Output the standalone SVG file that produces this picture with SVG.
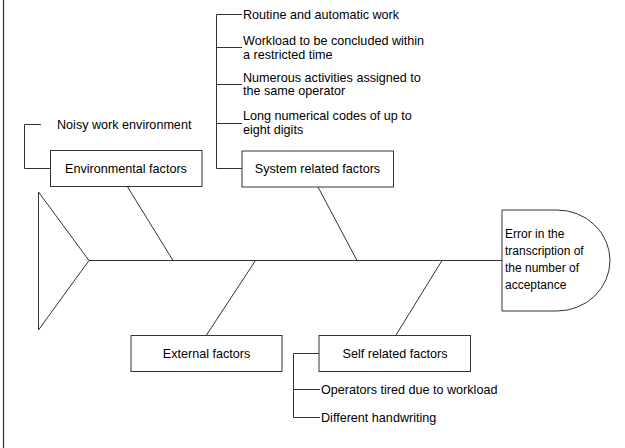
<svg xmlns="http://www.w3.org/2000/svg" width="625" height="448" viewBox="0 0 625 448">
<style>
.ln{stroke:#333;stroke-width:1;fill:none}
.bx{stroke:#333;stroke-width:1;fill:#fff}
.t{font-family:"Liberation Sans",Arial,sans-serif;font-size:12.6px;fill:#000}
.h{font-size:12px}
.c{text-anchor:middle}
</style>
<rect x="0" y="0" width="625" height="448" fill="#fff"/>
<line x1="3.5" y1="0" x2="3.5" y2="448" stroke="#333" stroke-width="1.2"/>
<g id="connectors">
<polyline class="ln" points="38.5,192 89,260.5 38.5,330 38.5,192"/>
<line class="ln" x1="89" y1="260.5" x2="502" y2="260.5"/>
<line class="ln" x1="127" y1="186" x2="173" y2="260.5"/>
<line class="ln" x1="318" y1="187" x2="357" y2="260.5"/>
<line class="ln" x1="255.5" y1="260.5" x2="206.5" y2="335"/>
<line class="ln" x1="442" y1="260.5" x2="396" y2="335"/>
<polyline class="ln" points="41,124.5 24.5,124.5 24.5,168.5 50,168.5"/>
<polyline class="ln" points="242,14.5 216.5,14.5 216.5,168.5 242,168.5"/>
<line class="ln" x1="216.5" y1="47.5" x2="242" y2="47.5"/>
<line class="ln" x1="216.5" y1="84.5" x2="242" y2="84.5"/>
<line class="ln" x1="216.5" y1="123.5" x2="242" y2="123.5"/>
<polyline class="ln" points="319,353.5 293.5,353.5 293.5,417.5 320,417.5"/>
<line class="ln" x1="293.5" y1="389.5" x2="320" y2="389.5"/>
</g>
<g id="environmental">
<rect class="bx" x="50.5" y="150.5" width="151.5" height="36"/>
<text class="t c" x="126" y="172.5">Environmental factors</text>
</g>
<g id="noisy">
<text class="t" x="57" y="128.5">Noisy work environment</text>
</g>
<g id="system">
<rect class="bx" x="242" y="151" width="151.5" height="36"/>
<text class="t c" x="317.5" y="173">System related factors</text>
</g>
<g id="routine"><text class="t" x="243" y="18.5">Routine and automatic work</text></g>
<g id="workload"><text class="t" x="243" y="44.5">Workload to be concluded within</text><text class="t" x="243" y="58.5">a restricted time</text></g>
<g id="numerous"><text class="t" x="243" y="81.5">Numerous activities assigned to</text><text class="t" x="243" y="95">the same operator</text></g>
<g id="long"><text class="t" x="243" y="120">Long numerical codes of up to</text><text class="t" x="243" y="133.5">eight digits</text></g>
<g id="external">
<rect class="bx" x="131" y="335.5" width="151" height="36"/>
<text class="t c" x="206.5" y="357.5">External factors</text>
</g>
<g id="self">
<rect class="bx" x="319" y="335.5" width="151.5" height="36"/>
<text class="t c" x="395" y="357.5">Self related factors</text>
</g>
<g id="tired"><text class="t" x="321" y="393.5">Operators tired due to workload</text></g>
<g id="handwriting"><text class="t" x="321" y="421.5">Different handwriting</text></g>
<g id="head">
<path class="bx" d="M502,210 H557 A53,50.5 0 0 1 557,311 H502 Z"/>
<text class="t h" x="505" y="238">Error in the</text>
<text class="t h" x="505" y="255">transcription of</text>
<text class="t h" x="505" y="272">the number of</text>
<text class="t h" x="505" y="289">acceptance</text>
</g>
</svg>
